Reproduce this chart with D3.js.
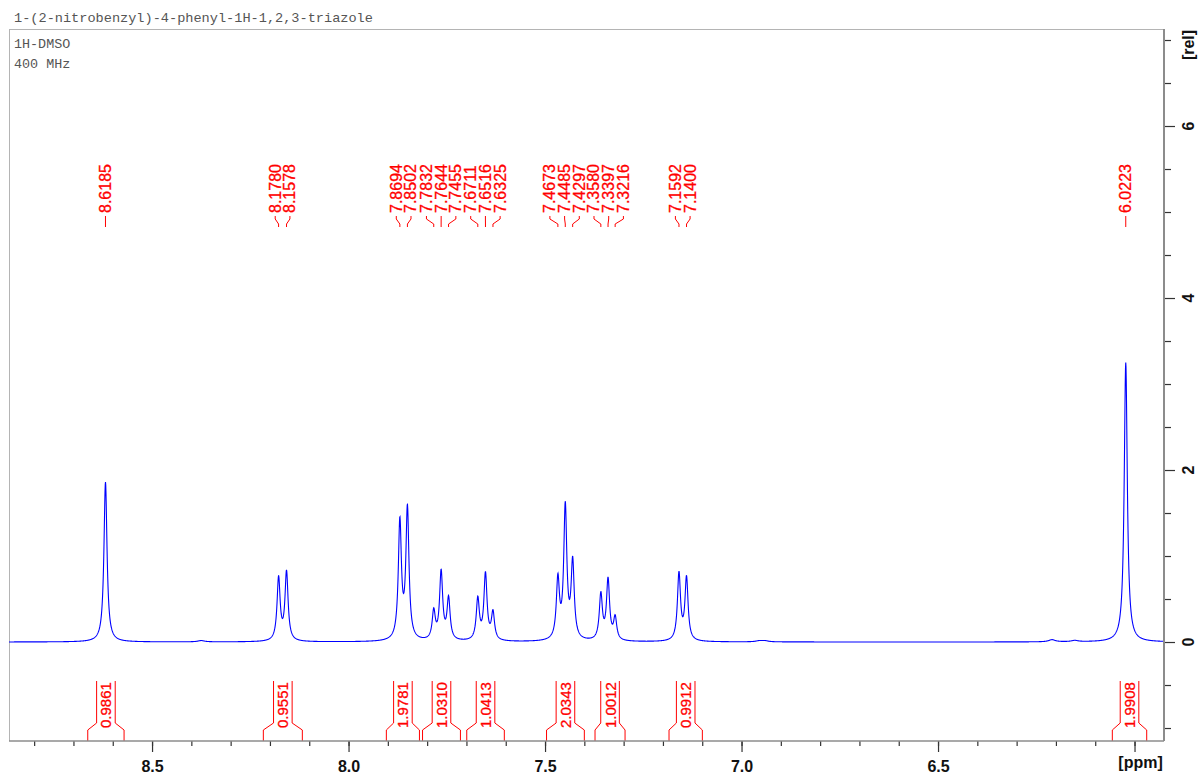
<!DOCTYPE html>
<html>
<head>
<meta charset="utf-8">
<script src="https://cdn.jsdelivr.net/npm/d3@7"></script>
<style>
  body { margin: 0; background: #fff; }
  svg { display: block; }
</style>
</head>
<body>
<svg id="chart" width="1200" height="775"></svg>
<script>
// ---- Data -------------------------------------------------------------
const title = "1-(2-nitrobenzyl)-4-phenyl-1H-1,2,3-triazole";
const infoLines = ["1H-DMSO", "400 MHz"];

// picked peaks (ppm) and their intensities (rel)
const peakShifts  = [8.6185, 8.1780, 8.1578, 7.8694, 7.8502, 7.7832, 7.7644, 7.7455,
                     7.6711, 7.6516, 7.6325, 7.4673, 7.4485, 7.4297, 7.3580, 7.3397,
                     7.3216, 7.1592, 7.1400, 6.0223];
const peakHeights = [1.86, 0.73, 0.80, 1.37, 1.52, 0.33, 0.79, 0.48,
                     0.48, 0.77, 0.32, 0.69, 1.54, 0.89, 0.53, 0.70,
                     0.26, 0.78, 0.73, 3.25];

// small baseline signals (not picked)
const minorShifts  = [8.375, 6.955, 6.940, 6.210, 6.152];
const minorHeights = [0.015, 0.012, 0.012, 0.025, 0.015];

// integral regions (ppm) and values
const integralStart  = [8.6636, 8.2168, 7.9038, 7.8117, 7.6992, 7.4962, 7.3728, 7.1845, 6.0565];
const integralEnd    = [8.5712, 8.1176, 7.8196, 7.7153, 7.6036, 7.4000, 7.2964, 7.0997, 5.9690];
const integralValues = ["0.9861", "0.9551", "1.9781", "1.0310", "1.0413", "2.0343", "1.0012", "0.9912", "1.9908"];

const xMajorTicks = [8.5, 8.0, 7.5, 7.0, 6.5, 6.0];
const xTickLabels = ["8.5", "8.0", "7.5", "7.0", "6.5", ""];
const yMajorTicks = [0, 2, 4, 6];

// ---- Layout -------------------------------------------------------------
const plot = { left: 9, right: 1164, top: 29, bottom: 741 };
const lineWidth = 0.0047;   // Lorentzian half width (ppm)
const minorWidth = 0.010;

const svg = d3.select("#chart");

const x = d3.scaleLinear().domain([8.864, 5.925]).range([plot.left, plot.right]);
const y = d3.scaleLinear().domain([-1.151, 7.128]).range([plot.bottom, plot.top]);

// ---- Frame ------------------------------------------------------------
svg.append("path")
  .attr("d", `M${plot.left},${plot.bottom} V${plot.top} H${plot.right}`)
  .attr("fill", "none").attr("stroke", "#b4b4b4").attr("stroke-width", 1)
  .attr("shape-rendering", "crispEdges");

// title and acquisition info
svg.append("text").text(title)
  .attr("x", 14).attr("y", 22)
  .attr("font-family", "'Liberation Mono', 'DejaVu Sans Mono', monospace")
  .attr("font-size", 13.6).attr("fill", "#555");

svg.selectAll("text.info").data(infoLines).join("text")
  .attr("class", "info")
  .attr("x", 14).attr("y", (d, i) => 48 + i * 20)
  .attr("font-family", "'Liberation Mono', 'DejaVu Sans Mono', monospace")
  .attr("font-size", 13.4).attr("fill", "#555")
  .text(d => d);

// ---- Spectrum ---------------------------------------------------------
const lorentz = (p, c, h, w) => h / (1 + ((p - c) / w) ** 2);
const samples = d3.range(plot.left, plot.right + 0.001, 0.25).map(px => {
  const p = x.invert(px);
  let v = 0;
  peakShifts.forEach((c, i) => { v += lorentz(p, c, peakHeights[i], lineWidth); });
  minorShifts.forEach((c, i) => { v += lorentz(p, c, minorHeights[i], minorWidth); });
  return [p, v];
});

svg.append("clipPath").attr("id", "plotClip")
  .append("rect")
  .attr("x", plot.left).attr("y", plot.top)
  .attr("width", plot.right - plot.left).attr("height", plot.bottom - plot.top);

svg.append("path")
  .datum(samples)
  .attr("clip-path", "url(#plotClip)")
  .attr("fill", "none")
  .attr("stroke", "#0000ff")
  .attr("stroke-width", 1.1)
  .attr("d", d3.line().x(d => x(d[0])).y(d => y(d[1])));

// ---- Peak labels ------------------------------------------------------
const labelGap = 14.7;
// spread labels evenly around their cluster centre until no two overlap
let clusters = peakShifts.map((p, i) => ({ idx: [i], center: x(p) }));
let merged = true;
while (merged) {
  merged = false;
  for (let k = 0; k < clusters.length - 1; k++) {
    const a = clusters[k], b = clusters[k + 1];
    const aRight = a.center + (a.idx.length - 1) / 2 * labelGap;
    const bLeft = b.center - (b.idx.length - 1) / 2 * labelGap;
    if (bLeft - aRight < labelGap) {
      const idx = a.idx.concat(b.idx);
      clusters.splice(k, 2, { idx, center: d3.mean(idx, j => x(peakShifts[j])) });
      merged = true;
      break;
    }
  }
}
const labelX = [];
clusters.forEach(c => {
  c.idx.forEach((j, n) => {
    labelX[j] = c.center + (n - (c.idx.length - 1) / 2) * labelGap;
  });
});

const peakG = svg.append("g");
peakG.selectAll("path").data(peakShifts).join("path")
  .attr("d", (d, i) => `M${labelX[i]},216 V219 L${x(d)},224 V227`)
  .attr("fill", "none").attr("stroke", "#ff0000").attr("stroke-width", 1);

peakG.selectAll("text").data(peakShifts).join("text")
  .attr("transform", (d, i) => `translate(${labelX[i]},213) rotate(-90)`)
  .attr("text-anchor", "start")
  .attr("dominant-baseline", "central")
  .attr("font-family", "'Liberation Sans', Arial, sans-serif")
  .attr("font-size", 16)
  .attr("fill", "#ff0000")
  .attr("stroke", "#ff0000").attr("stroke-width", 0.3)
  .text(d => d.toFixed(4));

// ---- Integrals --------------------------------------------------------
const intG = svg.append("g");
const innerHalf = 9.3;
integralStart.forEach((s, i) => {
  const xs = x(s), xe = x(integralEnd[i]);
  const mid = (xs + xe) / 2;
  intG.append("path")
    .attr("d", `M${xs},${plot.bottom} V730 L${mid - innerHalf},723 V681` +
               `M${xe},${plot.bottom} V730 L${mid + innerHalf},723 V681`)
    .attr("fill", "none").attr("stroke", "#ff0000").attr("stroke-width", 1);
  intG.append("text")
    .attr("transform", `translate(${mid},728) rotate(-90)`)
    .attr("text-anchor", "start")
    .attr("dominant-baseline", "central")
    .attr("font-family", "'Liberation Sans', Arial, sans-serif")
    .attr("font-size", 15)
    .attr("fill", "#ff0000")
    .attr("stroke", "#ff0000").attr("stroke-width", 0.3)
    .text(integralValues[i]);
});

// ---- X axis (ppm) -----------------------------------------------------
const xMinor = d3.range(60, 89).map(v => v / 10);
const xAxisMinor = d3.axisBottom(x).tickValues(xMinor).tickSize(5).tickFormat("");
const xAxisMajor = d3.axisBottom(x).tickValues(xMajorTicks).tickSize(11)
  .tickPadding(9).tickFormat((d, i) => xTickLabels[i]);

const gxm = svg.append("g").attr("transform", `translate(0,${plot.bottom})`).call(xAxisMinor);
const gx = svg.append("g").attr("transform", `translate(0,${plot.bottom})`).call(xAxisMajor);
[gxm, gx].forEach(g => {
  g.select(".domain").remove();
  g.selectAll(".tick line").attr("stroke", "#333").attr("stroke-width", 1.2);
});
gx.selectAll(".tick text")
  .attr("font-family", "'Liberation Sans', Arial, sans-serif")
  .attr("font-size", 16).attr("font-weight", "bold").attr("fill", "#111");

svg.append("line")
  .attr("x1", plot.left).attr("x2", plot.right)
  .attr("y1", plot.bottom).attr("y2", plot.bottom)
  .attr("stroke", "#8c8c8c").attr("stroke-width", 1.5);

svg.append("text").text("[ppm]")
  .attr("x", x(6.0) + 6).attr("y", 768)
  .attr("text-anchor", "middle")
  .attr("font-family", "'Liberation Sans', Arial, sans-serif")
  .attr("font-size", 16).attr("font-weight", "bold").attr("fill", "#111");

// ---- Y axis (rel) -----------------------------------------------------
const yMinor = d3.range(-2, 15).map(v => v / 2).filter(v => !yMajorTicks.includes(v));
const yAxisMinor = d3.axisRight(y).tickValues(yMinor).tickSize(7).tickFormat("");
const yAxisMajor = d3.axisRight(y).tickValues(yMajorTicks).tickSize(11).tickFormat("");

const gym = svg.append("g").attr("transform", `translate(${plot.right},0)`).call(yAxisMinor);
const gy = svg.append("g").attr("transform", `translate(${plot.right},0)`).call(yAxisMajor);
[gym, gy].forEach(g => {
  g.select(".domain").remove();
  g.selectAll(".tick line").attr("stroke", "#333").attr("stroke-width", 1.2);
});

svg.append("line")
  .attr("x1", plot.right).attr("x2", plot.right)
  .attr("y1", plot.top).attr("y2", plot.bottom)
  .attr("stroke", "#8c8c8c").attr("stroke-width", 2);

svg.selectAll("text.ylab").data(yMajorTicks).join("text")
  .attr("class", "ylab")
  .attr("transform", d => `translate(${plot.right + 24},${y(d)}) rotate(-90)`)
  .attr("text-anchor", "middle")
  .attr("dominant-baseline", "central")
  .attr("font-family", "'Liberation Sans', Arial, sans-serif")
  .attr("font-size", 16).attr("font-weight", "bold").attr("fill", "#111")
  .text(d => d);

svg.append("text").text("[rel]")
  .attr("transform", `translate(${plot.right + 24},45) rotate(-90)`)
  .attr("text-anchor", "middle")
  .attr("dominant-baseline", "central")
  .attr("font-family", "'Liberation Sans', Arial, sans-serif")
  .attr("font-size", 16).attr("font-weight", "bold").attr("fill", "#111");
</script>
</body>
</html>
